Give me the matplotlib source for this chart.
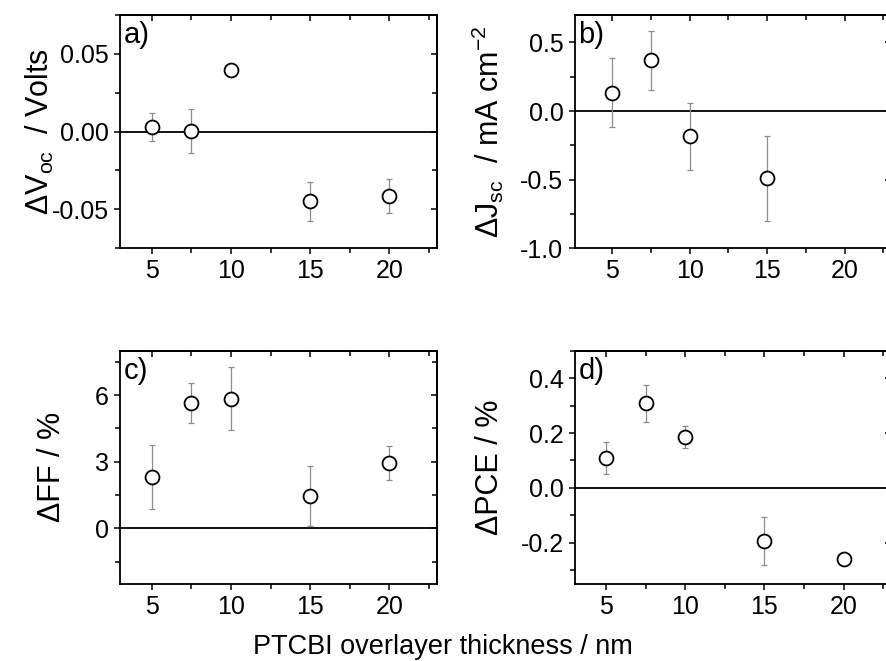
import matplotlib
matplotlib.use("Agg")
import matplotlib.pyplot as plt
from matplotlib.ticker import MultipleLocator, FormatStrFormatter
from matplotlib.transforms import blended_transform_factory

plt.rcParams['font.family'] = ['Liberation Sans', 'DejaVu Sans']
plt.rcParams['axes.unicode_minus'] = False
plt.rcParams['mathtext.fontset'] = 'custom'
plt.rcParams['mathtext.rm'] = 'Liberation Sans'
plt.rcParams['mathtext.it'] = 'Liberation Sans'

# Data
x_voc = [5, 7.5, 10, 15, 20]
voc = [0.0032, 0.0004, 0.0395, -0.0449, -0.0417]
voc_err = [0.009, 0.014, 0.0, 0.0125, 0.011]

x_jsc = [5, 7.5, 10, 15]
jsc = [0.134, 0.37, -0.185, -0.489]
jsc_err = [0.25, 0.217, 0.243, 0.31]

x_ff = [5, 7.5, 10, 15, 20]
ff = [2.30, 5.64, 5.84, 1.46, 2.93]
ff_err = [1.44, 0.90, 1.43, 1.35, 0.77]

x_pce = [5, 7.5, 10, 15, 20]
pce = [0.110, 0.308, 0.185, -0.194, -0.258]
pce_err = [0.058, 0.066, 0.040, 0.087, 0.0]

xticks = [5, 10, 15, 20]

W, H = 886, 661
fig = plt.figure(figsize=(W/100, H/100), dpi=100)

def rect(l, r, t, b):
    return [l/W, 1 - b/H, (r - l)/W, (b - t)/H]

panels = [
    dict(rect=rect(120, 437, 15, 248), x=x_voc, y=voc, e=voc_err, xlim=(3, 23),
         ylim=(-0.075, 0.075), major=0.05, minor=0.025, fmt='%.2f',
         ylabel='ΔV$_{\\mathregular{oc}}$  / Volts', tag='a)', labx=40/W),
    dict(rect=rect(574.5, 891, 15, 248.3), x=x_jsc, y=jsc, e=jsc_err, xlim=(2.55, 23),
         ylim=(-1.0, 0.7), major=0.5, minor=0.25, fmt='%.1f',
         ylabel='ΔJ$_{\\mathregular{sc}}$  / mA cm$^{\\mathregular{-2}}$', tag='b)', labx=488/W),
    dict(rect=rect(120, 437, 350.7, 584), x=x_ff, y=ff, e=ff_err, xlim=(3, 23),
         ylim=(-2.5, 8), major=3, minor=1.5, fmt='%d',
         ylabel='ΔFF / %', tag='c)', labx=52/W),
    dict(rect=rect(574.7, 891, 350.7, 584), x=x_pce, y=pce, e=pce_err, xlim=(3, 23),
         ylim=(-0.35, 0.5), major=0.2, minor=0.1, fmt='%.1f',
         ylabel='ΔPCE / %', tag='d)', labx=490/W),
]

for p in panels:
    ax = fig.add_axes(p['rect'])
    ax.axhline(0, color='black', lw=1.3, zorder=1)
    ax.errorbar(p['x'], p['y'], yerr=p['e'], fmt='none', ecolor='#8c8c8c',
                elinewidth=0.9, capsize=2.2, capthick=0.9, zorder=2)
    ax.plot(p['x'], p['y'], 'o', ms=10, mfc='white', mec='black', mew=1.3, zorder=3)
    ax.set_xlim(*p['xlim'])
    ax.set_ylim(*p['ylim'])
    ax.set_xticks(xticks)
    ax.xaxis.set_minor_locator(MultipleLocator(2.5))
    ax.yaxis.set_major_locator(MultipleLocator(p['major']))
    ax.yaxis.set_minor_locator(MultipleLocator(p['minor']))
    ax.yaxis.set_major_formatter(FormatStrFormatter(p['fmt']))
    for s in ax.spines.values():
        s.set_linewidth(1.3)
    ax.tick_params(axis='both', which='both', labelsize=18, width=1.1, length=4, pad=4)
    ax.tick_params(which='minor', length=3.5)
    ax.tick_params(axis='x', which='both', direction='out', bottom=True, top=False)
    ax.tick_params(axis='y', which='both', direction='out', left=True, right=False)
    sec_x = ax.secondary_xaxis('top')
    sec_x.set_xticks(xticks)
    sec_x.xaxis.set_minor_locator(MultipleLocator(2.5))
    sec_x.tick_params(axis='x', which='both', direction='in', labeltop=False, width=1.1, length=4)
    sec_x.tick_params(which='minor', length=3.5)
    sec_x.spines['top'].set_linewidth(1.3)
    sec_y = ax.secondary_yaxis('right')
    sec_y.yaxis.set_major_locator(MultipleLocator(p['major']))
    sec_y.yaxis.set_minor_locator(MultipleLocator(p['minor']))
    sec_y.tick_params(axis='y', which='both', direction='in', labelright=False, width=1.1, length=4)
    sec_y.tick_params(which='minor', length=3.5)
    sec_y.spines['right'].set_linewidth(1.3)
    ax.set_ylabel(p['ylabel'], fontsize=22, va='center')
    ax.yaxis.label.set_transform(blended_transform_factory(fig.transFigure, ax.transAxes))
    ax.yaxis.label.set_position((p['labx'], 0.5))
    ax.yaxis.set_label_coords(p['labx'], 0.5,
                              transform=blended_transform_factory(fig.transFigure, ax.transAxes))
    ax.text(0.012, 0.975, p['tag'], transform=ax.transAxes, fontsize=21,
            ha='left', va='top')

fig.text(443/W, 1 - 647/H, 'PTCBI overlayer thickness / nm', fontsize=19.5,
         ha='center', va='center')

fig.savefig('out.png', dpi=100)
